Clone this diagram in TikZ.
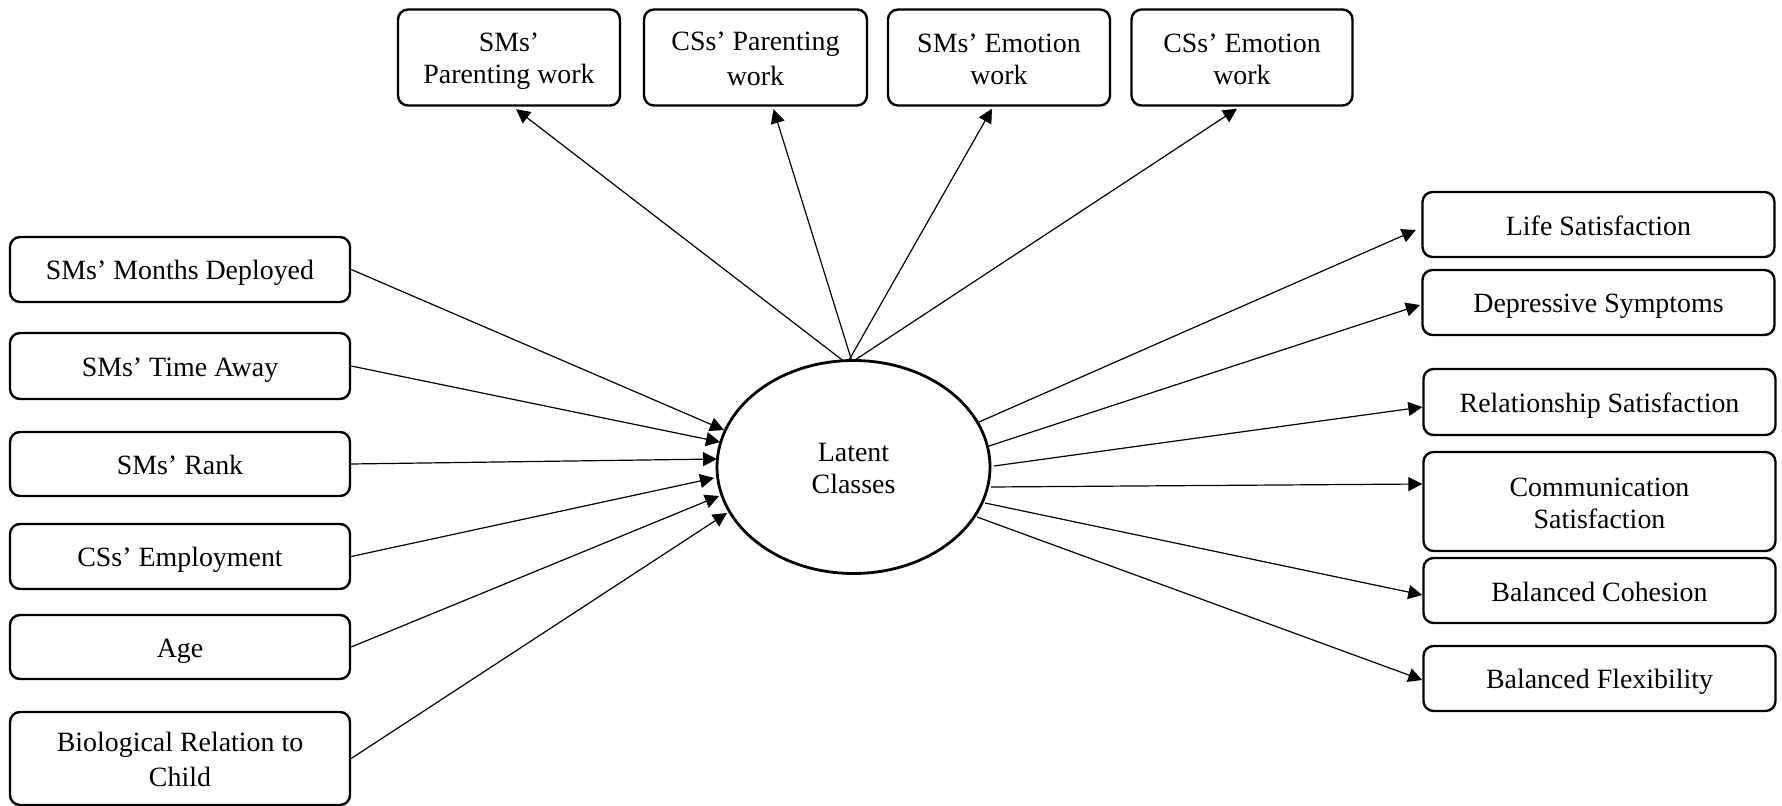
\documentclass[tikz,border=0pt]{standalone}
\usepackage{fontspec}
\setmainfont{Liberation Serif}
\usetikzlibrary{shapes.geometric,arrows.meta,calc}
\newcommand\mystrut{\rule[-2.7pt]{0pt}{16pt}}
\tikzset{
  varbox/.style={draw, line width=1.2pt, rounded corners=5pt, inner sep=0pt, align=center,
    font=\fontsize{13.95pt}{16pt}\selectfont},
  latent/.style={draw, ellipse, line width=1.4pt, inner sep=0pt, align=center,
    minimum width=136.5pt, minimum height=106.5pt, font=\fontsize{13.95pt}{16pt}\selectfont},
  path/.style={line width=0.6pt, -{Triangle[length=7pt,width=7pt]}}
}
\begin{document}
\begin{tikzpicture}[x=0.5pt,y=-0.5pt]
\useasboundingbox (0,0) rectangle (1782,806);
% latent variable
\node[latent] (lc) at (853.5,467) {\mystrut Latent\\\mystrut Classes};
% top indicators
\node[varbox, minimum width=111pt, minimum height=48pt] (t1) at (509,57.5) {\mystrut SMs'\\\mystrut Parenting work};
\node[varbox, minimum width=111.5pt, minimum height=48pt] (t2) at (755.5,57.5) {\mystrut CSs' Parenting\\\mystrut work};
\node[varbox, minimum width=111pt, minimum height=48pt] (t3) at (999,57.5) {\mystrut SMs' Emotion\\\mystrut work};
\node[varbox, minimum width=110.5pt, minimum height=48pt] (t4) at (1242,57.5) {\mystrut CSs' Emotion\\\mystrut work};
% left covariates
\node[varbox, minimum width=170pt, minimum height=32.5pt] (l1) at (180,269.5) {\mystrut SMs' Months Deployed};
\node[varbox, minimum width=170pt, minimum height=33pt] (l2) at (180,366) {\mystrut SMs' Time Away};
\node[varbox, minimum width=170pt, minimum height=32pt] (l3) at (180,464) {\mystrut SMs' Rank};
\node[varbox, minimum width=170pt, minimum height=32.5pt] (l4) at (180,556.5) {\mystrut CSs' Employment};
\node[varbox, minimum width=170pt, minimum height=32pt] (l5) at (180,647) {\mystrut Age};
\node[varbox, minimum width=170pt, minimum height=46.5pt] (l6) at (180,758.5) {\mystrut Biological Relation to\\\mystrut Child};
% right outcomes
\node[varbox, minimum width=176pt, minimum height=32.5pt] (r1) at (1598.5,224.5) {\mystrut Life Satisfaction};
\node[varbox, minimum width=176pt, minimum height=32.5pt] (r2) at (1598.5,302.5) {\mystrut Depressive Symptoms};
\node[varbox, minimum width=176pt, minimum height=33pt] (r3) at (1599.5,402) {\mystrut Relationship Satisfaction};
\node[varbox, minimum width=176pt, minimum height=49.5pt] (r4) at (1599.5,501.5) {\mystrut Communication\\\mystrut Satisfaction};
\node[varbox, minimum width=176pt, minimum height=32.5pt] (r5) at (1599.5,590.5) {\mystrut Balanced Cohesion};
\node[varbox, minimum width=176pt, minimum height=32.5pt] (r6) at (1599.5,678.5) {\mystrut Balanced Flexibility};
% top arrows
\draw[path] ($(lc.center)+(-10,-106)$) -- ($(t1.south)+(7,2.5)$);
\draw[path] ($(lc.center)+(-2,-107)$) -- ($(t2.south)+(18,2.5)$);
\draw[path] ($(lc.center)+(-5,-106)$) -- ($(t3.south)+(-7,2)$);
\draw[path] ($(lc.center)+(1.5,-107)$) -- ($(t4.south)+(-5,2)$);
% left arrows
\draw[path] (l1.east) -- ($(lc.center)+(-129.5,-37)$);
\draw[path] (l2.east) -- ($(lc.center)+(-133.5,-25)$);
\draw[path] (l3.east) -- ($(lc.center)+(-136.5,-8)$);
\draw[path] (l4.east) -- ($(lc.center)+(-139.5,11)$);
\draw[path] (l5.east) -- ($(lc.center)+(-134.5,29)$);
\draw[path] (l6.east) -- ($(lc.center)+(-126.5,46)$);
% right arrows
\draw[path] ($(lc.center)+(125.5,-45)$) -- ($(r1.west)+(-5.5,5.5)$);
\draw[path] ($(lc.center)+(135.5,-21)$) -- ($(r2.west)+(-1.5,2.5)$);
\draw[path] ($(lc.center)+(140.5,-1)$) -- ($(r3.west)+(0,5)$);
\draw[path] ($(lc.center)+(137.5,20)$) -- ($(r4.west)+(0,-17.5)$);
\draw[path] ($(lc.center)+(131.5,36)$) -- ($(r5.west)+(0,4.5)$);
\draw[path] ($(lc.center)+(123.5,50)$) -- ($(r6.west)+(0,1.5)$);
\end{tikzpicture}
\end{document}
